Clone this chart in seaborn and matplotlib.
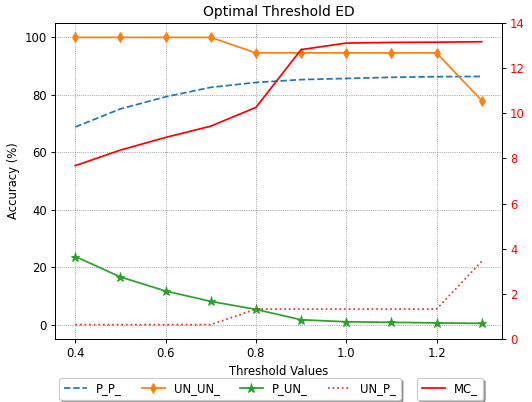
import matplotlib
matplotlib.use("Agg")
import matplotlib.pyplot as plt
import seaborn as sns
import pandas as pd

thresholds = [0.4, 0.5, 0.6, 0.7, 0.8, 0.9, 1.0, 1.1, 1.2, 1.3]
p_p = [68.8, 75.1, 79.3, 82.6, 84.3, 85.3, 85.7, 86.1, 86.3, 86.4]
un_un = [100, 100, 100, 100, 94.6, 94.6, 94.6, 94.6, 94.6, 78.0]
p_un = [23.7, 16.6, 11.7, 8.1, 5.3, 1.7, 1.0, 0.8, 0.6, 0.45]
un_p = [0, 0, 0, 0, 5.4, 5.4, 5.4, 5.4, 5.4, 22.0]
mc = [7.68, 8.37, 8.93, 9.43, 10.26, 12.82, 13.11, 13.14, 13.15, 13.17]

df = pd.DataFrame({"t": thresholds, "P_P_": p_p, "UN_UN_": un_un,
                   "P_UN_": p_un, "UN_P_": un_p, "MC_": mc})

dpi = 83.3
fig = plt.figure(figsize=(532 / dpi, 402 / dpi), dpi=dpi)
ax = fig.add_axes([55 / 532, 1 - 339 / 402, (502 - 55) / 532, (339 - 23) / 402])

sns.lineplot(data=df, x="t", y="P_P_", ax=ax, color="C0", linestyle="--", label="P_P_")
sns.lineplot(data=df, x="t", y="UN_UN_", ax=ax, color="C1", marker="d",
             markeredgecolor="C1", label="UN_UN_")
sns.lineplot(data=df, x="t", y="P_UN_", ax=ax, color="C2", marker="*",
             markeredgecolor="C2", markersize=8, label="P_UN_")
sns.lineplot(data=df, x="t", y="UN_P_", ax=ax, color="#e8322f", linestyle=":", label="UN_P_")

ax.set_xlabel("Threshold Values")
ax.set_ylabel("Accuracy (%)")
ax.set_title("Optimal Threshold ED")
ax.set_xticks([0.4, 0.6, 0.8, 1.0, 1.2])
ax.grid(True, linestyle=":", color="gray", linewidth=0.7)
h1, l1 = ax.get_legend_handles_labels()
ax.get_legend().remove()

ax2 = ax.twinx()
sns.lineplot(data=df, x="t", y="MC_", ax=ax2, color="red", label="MC_")
ax2.set_ylim(0, 14)
ax2.set_ylabel("Misclassification (%)", color="red", labelpad=7)
ax2.tick_params(axis="y", labelcolor="red")
h2, l2 = ax2.get_legend_handles_labels()
ax2.get_legend().remove()

fig.legend(h1, l1, loc="upper center", bbox_to_anchor=(230 / 532, 1 - 372 / 402),
           ncol=4, shadow=True, fancybox=True, columnspacing=1.7)
fig.legend(h2, l2, loc="upper center", bbox_to_anchor=(450 / 532, 1 - 372 / 402),
           ncol=1, shadow=True, fancybox=True)

fig.savefig("out.png", dpi=dpi)
